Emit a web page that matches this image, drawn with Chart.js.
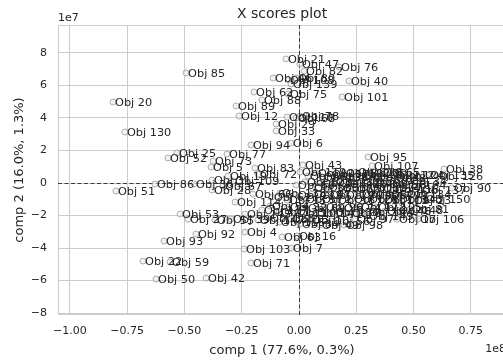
<!DOCTYPE html>
<html><head><meta charset="utf-8">
<script src="https://cdn.jsdelivr.net/npm/chart.js@4.4.0/dist/chart.umd.min.js"></script>
<style>
html,body{margin:0;padding:0;background:#fff;overflow:hidden;width:503px;height:360px}
#wrap{width:510px;height:360px;position:relative}
</style>
</head><body><div id="wrap"><canvas id="c" width="510" height="360"></canvas></div>
<script>
// comp 1 in units of 1e8, comp 2 in units of 1e7
const objNames = [
 "Obj 20","Obj 130","Obj 85","Obj 51","Obj 86","Obj 25","Obj 52","Obj 73","Obj 5","Obj 77",
 "Obj 36","Obj 31","Obj 28","Obj 67","Obj 19","Obj 83","Obj 72","Obj 109","Obj 114","Obj 66",
 "Obj 53","Obj 27","Obj 55","Obj 39","Obj 145","Obj 92","Obj 93","Obj 22","Obj 59","Obj 50",
 "Obj 42","Obj 4","Obj 103","Obj 71","Obj 7","Obj 63","Obj 16",
 "Obj 21","Obj 47","Obj 82","Obj 76","Obj 40","Obj 101","Obj 46","Obj 108","Obj 80","Obj 139",
 "Obj 75","Obj 62","Obj 88","Obj 89","Obj 12","Obj 78","Obj 68","Obj 110","Obj 29","Obj 33",
 "Obj 94","Obj 6","Obj 43",
 "Obj 95","Obj 107","Obj 124","Obj 38","Obj 126","Obj 135","Obj 90","Obj 148","Obj 81","Obj 17",
 "Obj 106","Obj 137","Obj 150",
 "Obj 119","Obj 41","Obj 11","Obj 133","Obj 57","Obj 24","Obj 102","Obj 3","Obj 118","Obj 44",
 "Obj 30","Obj 140","Obj 65","Obj 112","Obj 8",
 "Obj 60","Obj 123","Obj 35","Obj 14","Obj 91","Obj 132","Obj 70","Obj 26","Obj 111","Obj 48",
 "Obj 127","Obj 1","Obj 142","Obj 58","Obj 116","Obj 104","Obj 34",
 "Obj 61","Obj 138","Obj 15","Obj 121","Obj 37","Obj 87","Obj 2","Obj 129","Obj 18","Obj 79",
 "Obj 120","Obj 45","Obj 131","Obj 64","Obj 113","Obj 99","Obj 143","Obj 134","Obj 23",
 "Obj 117","Obj 54","Obj 125","Obj 32","Obj 100","Obj 69","Obj 141","Obj 96","Obj 136","Obj 74",
 "Obj 9","Obj 122","Obj 144","Obj 105","Obj 146",
 "Obj 147","Obj 128","Obj 115","Obj 13","Obj 84","Obj 10","Obj 49","Obj 56","Obj 98","Obj 97","Obj 149"
];
const comp1 = [
 -0.812,-0.760,-0.493,-0.799,-0.629,-0.533,-0.572,-0.375,-0.384,-0.314,
 -0.458,-0.380,-0.380,-0.332,-0.310,-0.192,-0.179,-0.288,-0.279,-0.201,
 -0.519,-0.485,-0.367,-0.297,-0.236,-0.450,-0.589,-0.681,-0.563,-0.624,
 -0.406,-0.236,-0.240,-0.210,-0.035,-0.074,-0.009,
 -0.057,0.004,0.022,0.175,0.218,0.188,-0.113,-0.048,-0.013,-0.035,
 -0.048,-0.196,-0.162,-0.275,-0.262,0.004,-0.013,-0.052,-0.100,-0.100,
 -0.210,-0.035,0.017,
 0.301,0.319,0.432,0.633,0.602,0.563,0.668,0.428,0.485,0.428,
 0.519,0.528,0.546,
 0.004,0.039,0.074,0.100,0.135,0.166,0.196,0.223,0.249,0.275,
 0.301,0.332,0.358,0.388,0.415,
 -0.013,0.026,0.057,0.092,0.122,0.153,0.183,0.214,0.244,0.271,
 0.301,0.327,0.358,0.384,0.410,0.441,0.476,
 -0.118,-0.083,-0.052,-0.013,0.022,0.057,0.092,0.127,0.162,0.196,
 0.231,0.266,0.297,0.327,0.362,0.393,0.428,0.463,0.493,
 -0.162,-0.127,-0.087,-0.048,-0.009,0.031,0.070,0.109,0.148,0.188,
 0.223,0.262,0.297,0.336,0.375,
 -0.179,-0.135,-0.087,-0.039,0.004,0.048,0.092,0.140,0.196,0.244,0.297
];
const comp2 = [
 4.98,3.14,6.77,-0.49,-0.06,1.85,1.54,1.35,0.98,1.78,
 -0.06,0.18,-0.43,-0.18,0.43,0.92,0.55,0.12,-1.17,-0.68,
 -1.91,-2.22,-2.28,-2.22,-1.91,-3.14,-3.57,-4.80,-4.86,-5.91,
 -5.85,-3.02,-4.06,-4.92,-4.00,-3.32,-3.26,
 7.63,7.32,6.89,7.14,6.28,5.29,6.46,6.34,6.46,6.09,
 5.48,5.60,5.11,4.74,4.12,4.12,4.00,4.06,3.63,3.20,
 2.34,2.46,1.11,
 1.60,1.05,0.49,0.86,0.43,0.49,-0.31,-1.66,-1.60,-2.22,
 -2.22,-0.43,-0.98,
 0.68,0.43,0.62,0.37,0.55,0.43,0.62,0.37,0.68,0.43,
 0.62,0.37,0.68,0.49,0.31,
 -0.12,0.06,-0.31,0.00,-0.25,0.06,-0.31,-0.06,-0.37,0.00,
 -0.25,0.06,-0.31,-0.06,-0.37,-0.12,0.12,
 -0.86,-0.62,-1.05,-0.74,-0.98,-0.68,-0.98,-0.74,-1.05,-0.74,
 -0.98,-0.68,-0.98,-0.74,-1.05,-0.74,-0.98,-0.68,-1.05,
 -1.66,-1.42,-1.78,-1.48,-1.85,-1.54,-1.85,-1.48,-1.78,-1.54,
 -1.85,-1.48,-1.78,-1.48,-1.72,
 -2.28,-2.15,-2.40,-2.22,-2.52,-2.28,-2.58,-2.34,-2.58,-2.22,-2.03
];
const xTicks = [-1.00,-0.75,-0.50,-0.25,0.00,0.25,0.50,0.75];
const yTicks = [-8,-6,-4,-2,0,2,4,6,8];
const xRange = [-1.052, 0.9035];
const yRange = [-8.12, 9.72];

const FONT = "'DejaVu Sans', sans-serif";
const TXT = '#262626';
const minus = s => s.replace('-', '\u2212');

const points = comp1.map((v, i) => ({x: v, y: comp2[i]}));

const decor = {
  id: 'decor',
  beforeDatasetsDraw(chart) {
    const {ctx, chartArea: a, scales: {x, y}} = chart;
    ctx.save();
    ctx.strokeStyle = '#cccccc'; ctx.lineWidth = 1;
    ctx.strokeRect(a.left + 0.5, a.top + 0.5, a.right - a.left - 1, a.bottom - a.top - 1);
    ctx.strokeStyle = '#3c3c3c'; ctx.lineWidth = 1; ctx.setLineDash([4, 2.5]);
    const x0 = Math.round(x.getPixelForValue(0)) + 0.5;
    const y0 = Math.round(y.getPixelForValue(0)) + 0.5;
    ctx.beginPath();
    ctx.moveTo(x0, a.top); ctx.lineTo(x0, a.bottom);
    ctx.moveTo(a.left, y0); ctx.lineTo(a.right, y0);
    ctx.stroke();
    ctx.restore();
  },
  afterDatasetsDraw(chart) {
    const {ctx} = chart;
    const meta = chart.getDatasetMeta(0);
    ctx.save();
    ctx.font = "11.3px " + FONT;
    ctx.fillStyle = TXT;
    ctx.textAlign = 'left'; ctx.textBaseline = 'alphabetic';
    meta.data.forEach((el, i) => {
      ctx.fillText(objNames[i], el.x + 2, el.y + 4);
    });
    ctx.restore();
  },
  afterDraw(chart) {
    const {ctx, chartArea: a} = chart;
    ctx.save();
    ctx.fillStyle = TXT;
    ctx.font = "14px " + FONT;
    ctx.textAlign = 'center'; ctx.textBaseline = 'alphabetic';
    ctx.fillText('X scores plot', (a.left + a.right) / 2, 18);
    ctx.font = "11px " + FONT;
    ctx.textAlign = 'left';
    ctx.fillText('1e7', a.left, a.top - 4);
    ctx.textAlign = 'right'; ctx.textBaseline = 'middle';
    ctx.fillText('1e8', a.right, 349);
    ctx.restore();
  }
};

new Chart(document.getElementById('c'), {
  type: 'scatter',
  data: {
    datasets: [{
      data: points,
      pointRadius: 3,
      pointHoverRadius: 3,
      borderWidth: 1,
      borderColor: 'rgba(150,150,150,0.75)',
      backgroundColor: 'rgba(235,235,235,0.6)'
    }]
  },
  options: {
    responsive: false,
    animation: false,
    devicePixelRatio: 1,
    layout: {padding: {top: 25, right: 4, left: 0, bottom: 0}},
    plugins: {legend: {display: false}, title: {display: false}, tooltip: {enabled: false}},
    scales: {
      x: {
        type: 'linear', min: xRange[0], max: xRange[1],
        afterBuildTicks: s => { s.ticks = xTicks.map(v => ({value: v})); },
        afterFit: s => { s.height = 45; },
        grid: {color: '#cccccc', lineWidth: 1, drawTicks: false},
        border: {display: false},
        ticks: {padding: 10, color: TXT, font: {family: FONT, size: 11},
          callback: v => minus(Number(v).toFixed(2))},
        title: {display: true, text: 'comp 1 (77.6%, 0.3%)', color: TXT,
          font: {family: FONT, size: 13}, padding: {top: 0, bottom: 2}}
      },
      y: {
        type: 'linear', min: yRange[0], max: yRange[1],
        afterBuildTicks: s => { s.ticks = yTicks.map(v => ({value: v})); },
        afterFit: s => { s.width = 58; },
        grid: {color: '#cccccc', lineWidth: 1, drawTicks: false},
        border: {display: false},
        ticks: {padding: 11, color: TXT, font: {family: FONT, size: 11},
          callback: v => minus(String(v))},
        title: {display: true, text: 'comp 2 (16.0%, 1.3%)', color: TXT,
          font: {family: FONT, size: 13}, padding: {top: 12, bottom: 0}}
      }
    }
  },
  plugins: [decor]
});
</script>
</body></html>
